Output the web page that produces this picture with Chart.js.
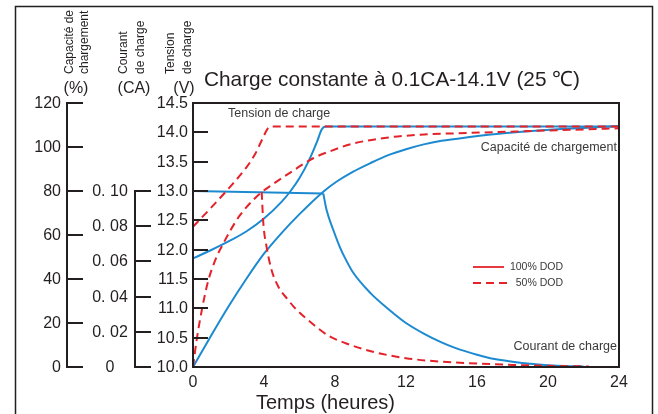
<!DOCTYPE html>
<html>
<head>
<meta charset="utf-8">
<script src="https://cdn.jsdelivr.net/npm/chart.js@4.4.0/dist/chart.umd.min.js"></script>
<style>
  html, body { margin: 0; padding: 0; background: #fff; }
  canvas { display: block; }
</style>
</head>
<body>
<canvas id="graficaCarga" width="658" height="414"></canvas>
<script>
// Ejes
const ticksHoras = [0, 4, 8, 12, 16, 20, 24];
const ticksPct = [0, 20, 40, 60, 80, 100, 120];
const ticksCA = [0, 0.02, 0.04, 0.06, 0.08, 0.10];
const etiquetasCA = ['0', '0. 02', '0. 04', '0. 06', '0. 08', '0. 10'];
const ticksV = [10.0, 10.5, 11.0, 11.5, 12.0, 12.5, 13.0, 13.5, 14.0, 14.5];

// 100% DOD (azul)
const horasV100 = [0, 1, 2, 3, 4, 5, 5.5, 6, 6.5, 7.0, 7.25, 7.5, 12, 18, 24];
const tensionV100 = [11.85, 11.99, 12.14, 12.31, 12.53, 12.82, 13.0, 13.22, 13.5, 13.85, 14.05, 14.1, 14.1, 14.1, 14.1];

const horasCA100a = [0, 7.34];
const corrienteCA100a = [0.1, 0.0986];
const horasCA100b = [7.34, 7.53, 7.9, 8.28, 8.56, 9, 10, 11, 12, 13, 14, 15, 16, 17, 18, 19, 20, 21, 22];
const corrienteCA100b = [0.0986, 0.089, 0.078, 0.068, 0.062, 0.054, 0.042, 0.033, 0.025, 0.019, 0.014, 0.010, 0.007, 0.0045, 0.003, 0.0018, 0.001, 0.0005, 0.0003];

const horasPct100 = [0, 1, 2, 3, 4, 5, 6, 7.34, 8.1, 9, 10, 11, 12, 13, 14, 15.6, 17.5, 20.3, 24];
const capacidad100 = [0, 14, 27.5, 40, 51.5, 61, 69.5, 79.7, 84.3, 88.7, 92.7, 96.3, 99, 101.2, 102.8, 104.5, 106.2, 108, 109.5];

// 50% DOD (rojo discontinuo)
const horasV50 = [0, 1, 2, 3, 3.5, 3.9, 4.2, 4.4, 8, 14, 24];
const tensionV50 = [12.39, 12.71, 13.04, 13.4, 13.63, 13.88, 14.06, 14.1, 14.1, 14.1, 14.1];

const horasCA50 = [3.87, 3.96, 4.15, 4.43, 4.81, 5.37, 5.75, 6.8, 7.6, 8.6, 10.2, 12, 14, 16, 18, 20, 22.3];
const corrienteCA50 = [0.0995, 0.082, 0.068, 0.055, 0.0456, 0.038, 0.0334, 0.024, 0.018, 0.0135, 0.0085, 0.005, 0.003, 0.002, 0.0012, 0.0007, 0.0003];

const horasPct50 = [0, 0.2, 0.5, 0.85, 1.3, 1.7, 2.1, 2.65, 3.4, 3.87, 4.43, 5.5, 6.8, 7.7, 9, 10.9, 12.8, 15.6, 18.4, 21.2, 24];
const capacidad50 = [0, 12, 26, 39, 49.5, 56, 62, 69, 76, 79.5, 82.7, 88.5, 95, 98, 101.5, 104.2, 105.6, 106.4, 107.1, 107.8, 108.5];

const AZUL = '#1c8ad0';
const ROJO = '#e3222a';
const OSCURO = '#231f20';
const FUENTE = '"Liberation Sans", Arial, sans-serif';

function puntos(xs, ys) {
  return xs.map((x, i) => ({ x: x, y: ys[i] }));
}

function serie(datos, eje, color, discontinua) {
  return {
    data: datos,
    yAxisID: eje,
    borderColor: color,
    borderWidth: 2,
    borderDash: discontinua ? [8, 5] : [],
    pointRadius: 0,
    fill: false,
    cubicInterpolationMode: 'monotone'
  };
}

// Ejes, rótulos y leyenda dibujados a mano
const ejesPlugin = {
  id: 'ejes',
  afterDraw(chart) {
    const ctx = chart.ctx;
    const area = chart.chartArea;
    const sx = chart.scales.x;
    const sV = chart.scales.yV;
    const sCA = chart.scales.yCA;
    const sP = chart.scales.yPct;

    ctx.save();
    ctx.strokeStyle = OSCURO;
    ctx.fillStyle = OSCURO;

    // marco exterior
    ctx.lineWidth = 1.5;
    ctx.beginPath();
    ctx.moveTo(15.5, 414);
    ctx.lineTo(15.5, 6.5);
    ctx.lineTo(652.5, 6.5);
    ctx.lineTo(652.5, 414);
    ctx.stroke();

    // marco del gráfico
    ctx.lineWidth = 2;
    ctx.strokeRect(area.left, area.top, area.right - area.left, area.bottom - area.top);

    // eje tensión (V)
    ctx.font = '16px ' + FUENTE;
    ctx.textAlign = 'right';
    ctx.textBaseline = 'middle';
    ticksV.forEach(v => {
      const y = Math.round(sV.getPixelForValue(v));
      ctx.beginPath();
      ctx.moveTo(area.left, y);
      ctx.lineTo(area.left + 15, y);
      ctx.stroke();
      ctx.fillText(v.toFixed(1), area.left - 5, y + 1);
    });

    // eje capacidad (%)
    const xP = 67;
    ctx.beginPath();
    ctx.moveTo(xP, sP.getPixelForValue(120) - 1);
    ctx.lineTo(xP, sP.getPixelForValue(0) + 1);
    ctx.stroke();
    ticksPct.forEach(p => {
      const y = Math.round(sP.getPixelForValue(p));
      ctx.beginPath();
      ctx.moveTo(xP - 1, y);
      ctx.lineTo(xP + 16, y);
      ctx.stroke();
      ctx.fillText(String(p), xP - 6, y + 1);
    });

    // eje corriente (CA)
    const xC = 135;
    ctx.beginPath();
    ctx.moveTo(xC, sCA.getPixelForValue(0.10) - 1);
    ctx.lineTo(xC, sCA.getPixelForValue(0) + 1);
    ctx.stroke();
    ctx.textAlign = 'center';
    ticksCA.forEach((c, i) => {
      const y = Math.round(sCA.getPixelForValue(c));
      ctx.beginPath();
      ctx.moveTo(xC - 1, y);
      ctx.lineTo(xC + 16, y);
      ctx.stroke();
      ctx.fillText(etiquetasCA[i], 110, y + 1);
    });

    // eje tiempo
    ctx.textBaseline = 'middle';
    ticksHoras.forEach(h => {
      ctx.fillText(String(h), sx.getPixelForValue(h), 383);
    });
    ctx.font = '20px ' + FUENTE;
    ctx.textAlign = 'left';
    ctx.fillText('Temps (heures)', 256, 403);

    // título
    ctx.font = '21px ' + FUENTE;
    ctx.fillText('Charge constante à 0.1CA-14.1V (25 ℃)', 204, 80, 376);

    // cabeceras verticales
    ctx.font = '12px ' + FUENTE;
    const cabeceras = [
      ['Capacité de', 70], ['chargement', 85],
      ['Courant', 124], ['de charge', 141],
      ['Tension', 171], ['de charge', 188]
    ];
    cabeceras.forEach(c => {
      ctx.save();
      ctx.translate(c[1], 74);
      ctx.rotate(-Math.PI / 2);
      ctx.textAlign = 'left';
      ctx.fillText(c[0], 0, 0);
      ctx.restore();
    });
    ctx.font = '16px ' + FUENTE;
    ctx.textAlign = 'center';
    ctx.fillText('(%)', 76, 89);
    ctx.fillText('(CA)', 134, 89);
    ctx.fillText('(V)', 184, 89);

    // rótulos de curvas
    ctx.fillStyle = '#3a3a3a';
    ctx.font = '12.5px ' + FUENTE;
    ctx.textAlign = 'left';
    ctx.fillText('Tension de charge', 228, 114);
    ctx.textAlign = 'right';
    ctx.fillText('Capacité de chargement', 617, 148);
    ctx.fillText('Courant de charge', 617, 347);

    // leyenda
    ctx.font = '10.5px ' + FUENTE;
    ctx.fillText('100% DOD', 563, 267);
    ctx.fillText('50% DOD', 563, 283);
    ctx.strokeStyle = ROJO;
    ctx.lineWidth = 1.8;
    ctx.beginPath();
    ctx.moveTo(473, 267);
    ctx.lineTo(504, 267);
    ctx.stroke();
    ctx.setLineDash([8, 5]);
    ctx.beginPath();
    ctx.moveTo(473, 283);
    ctx.lineTo(508, 283);
    ctx.stroke();

    ctx.restore();
  }
};

const ctx = document.getElementById('graficaCarga').getContext('2d');
new Chart(ctx, {
  type: 'line',
  data: {
    datasets: [
      serie(puntos(horasV50, tensionV50), 'yV', ROJO, true),
      serie(puntos(horasCA50, corrienteCA50), 'yCA', ROJO, true),
      serie(puntos(horasPct50, capacidad50), 'yPct', ROJO, true),
      serie(puntos(horasV100, tensionV100), 'yV', AZUL, false),
      serie(puntos(horasCA100a, corrienteCA100a), 'yCA', AZUL, false),
      serie(puntos(horasCA100b, corrienteCA100b), 'yCA', AZUL, false),
      serie(puntos(horasPct100, capacidad100), 'yPct', AZUL, false)
    ]
  },
  options: {
    responsive: false,
    animation: false,
    layout: { padding: { left: 193, top: 103, right: 39, bottom: 47 } },
    plugins: {
      legend: { display: false },
      tooltip: { enabled: false }
    },
    scales: {
      x: { type: 'linear', min: 0, max: 24, display: false },
      yV: { type: 'linear', min: 10, max: 14.5, display: false },
      yCA: { type: 'linear', min: 0, max: 0.15, display: false },
      yPct: { type: 'linear', min: 0, max: 120, display: false }
    }
  },
  plugins: [ejesPlugin]
});
</script>
</body>
</html>
